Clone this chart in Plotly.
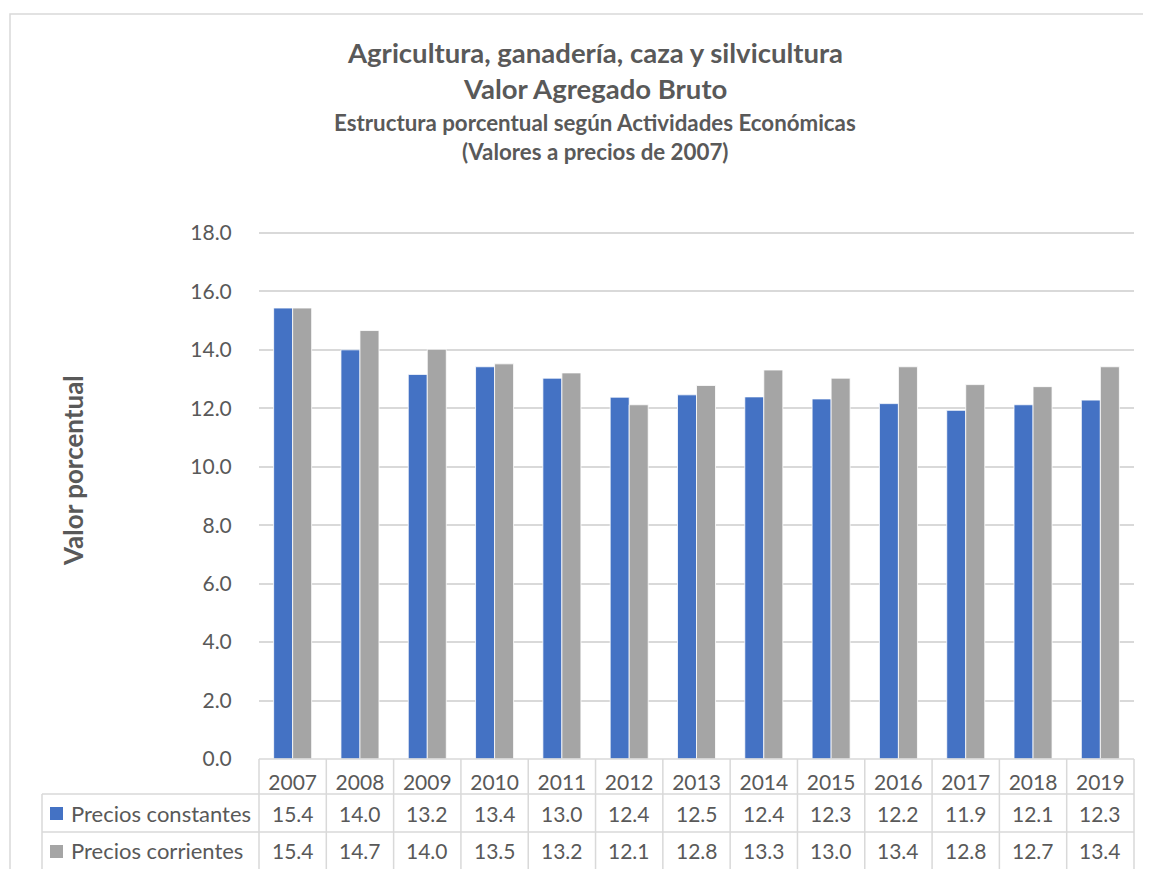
import plotly.graph_objects as go

years = ['2007', '2008', '2009', '2010', '2011', '2012', '2013',
         '2014', '2015', '2016', '2017', '2018', '2019']
precios_constantes = [15.43, 14.00, 13.16, 13.42, 13.03, 12.38, 12.46,
                      12.39, 12.32, 12.16, 11.93, 12.12, 12.28]
precios_corrientes = [15.43, 14.66, 14.02, 13.52, 13.21, 12.12, 12.78,
                      13.31, 13.03, 13.42, 12.81, 12.74, 13.42]
series_names = ['Precios constantes', 'Precios corrientes']
y_ticks = [0, 2, 4, 6, 8, 10, 12, 14, 16, 18]

BLUE = '#4472C4'
GRAY = '#A5A5A5'
TXT = '#595959'
LINE = '#D9D9D9'
FONT = 'Lato'

# page body adds an 8px offset, so the figure is drawn 8px smaller
OFF = 8
W, H = 1151 - OFF, 869 - OFF
# plot area in window pixels
PX0, PX1 = 259, 1134
PY0, PY1 = 230, 759
Y_MAX = 18.1


def px(x):
    return (x - PX0) / (PX1 - PX0)


def py(y):
    return (PY1 - y) / (PY1 - PY0)


fig = go.Figure()
for name, vals, col in [(series_names[0], precios_constantes, BLUE),
                        (series_names[1], precios_corrientes, GRAY)]:
    fig.add_trace(go.Bar(
        x=years, y=vals, name=name,
        marker=dict(color=col, line=dict(color='white', width=0.8)),
        hovertemplate='%{x}: %{y:.1f}<extra>' + name + '</extra>'
    ))

shapes = []
# outer chart border
shapes.append(dict(type='rect', xref='paper', yref='paper',
                   x0=px(10), x1=px(1165), y0=py(885), y1=py(14),
                   line=dict(color=LINE, width=1.5), layer='below'))
# data table grid
n = len(years)
for k in range(n + 1):
    shapes.append(dict(type='line', xref='paper', yref='paper',
                       x0=k / n, x1=k / n, y0=py(880), y1=0,
                       line=dict(color=LINE, width=1.5)))
shapes.append(dict(type='line', xref='paper', yref='paper',
                   x0=px(42), x1=px(42), y0=py(880), y1=py(794),
                   line=dict(color=LINE, width=1.5)))
shapes.append(dict(type='line', xref='paper', yref='paper',
                   x0=0, x1=1, y0=0, y1=0,
                   line=dict(color=LINE, width=1.5)))
for yy in [794, 832]:
    shapes.append(dict(type='line', xref='paper', yref='paper',
                       x0=px(42), x1=1, y0=py(yy), y1=py(yy),
                       line=dict(color=LINE, width=1.5)))
# legend keys
for yy, col in [(807, BLUE), (845, GRAY)]:
    shapes.append(dict(type='rect', xref='paper', yref='paper',
                       x0=px(50), x1=px(63), y0=py(yy + 13), y1=py(yy),
                       fillcolor=col, line=dict(width=0)))

annotations = []
titles = [
    ('<b>Agricultura, ganadería, caza y silvicultura</b>', 53, 27.5),
    ('<b>Valor Agregado Bruto</b>', 89, 27.5),
    ('<b>Estructura porcentual según Actividades Económicas</b>', 122, 22.3),
    ('<b>(Valores a precios de 2007)</b>', 152, 22.3),
]
for txt, yy, size in titles:
    annotations.append(dict(text=txt, xref='paper', yref='paper',
                            x=px(595), y=py(yy), xanchor='center', yanchor='middle',
                            showarrow=False, font=dict(size=size, color=TXT, family=FONT)))
annotations.append(dict(text='<b>Valor porcentual</b>', xref='paper', yref='paper',
                        x=px(73), y=py(471), textangle=-90, showarrow=False,
                        xanchor='center', yanchor='middle',
                        font=dict(size=26, color=TXT, family=FONT)))
# table rows
for name, vals, yy in [(series_names[0], precios_constantes, 813),
                       (series_names[1], precios_corrientes, 851)]:
    annotations.append(dict(text=name, xref='paper', yref='paper',
                            x=px(69), y=py(yy), xanchor='left', yanchor='middle',
                            showarrow=False, font=dict(size=22, color=TXT, family=FONT)))
    for i, v in enumerate(vals):
        annotations.append(dict(text=f'{v:.1f}', xref='paper', yref='paper',
                                x=(i + 0.5) / n, y=py(yy), xanchor='center', yanchor='middle',
                                showarrow=False, font=dict(size=21, color=TXT, family=FONT)))

fig.update_layout(
    width=W, height=H,
    margin=dict(l=PX0 - OFF, r=W - (PX1 - OFF), t=PY0 - OFF, b=H - (PY1 - OFF),
                autoexpand=False),
    paper_bgcolor='white', plot_bgcolor='white',
    barmode='group', bargap=0.435, bargroupgap=0,
    showlegend=False,
    font=dict(family=FONT, color=TXT, size=21),
    xaxis=dict(type='category', categoryorder='array', categoryarray=years,
               range=[-0.5, n - 0.5], showgrid=False, zeroline=False, showline=False,
               ticks='outside', ticklen=5, tickcolor='rgba(0,0,0,0)',
               tickfont=dict(size=21, color=TXT)),
    yaxis=dict(range=[0, Y_MAX], tickvals=y_ticks, tickformat='.1f',
               showgrid=True, gridcolor=LINE, gridwidth=1.5, zeroline=False,
               showline=False, ticks='outside', ticklen=22, tickcolor='rgba(0,0,0,0)',
               tickfont=dict(size=21, color=TXT)),
    shapes=shapes, annotations=annotations,
)

fig.write_html('out.html')
